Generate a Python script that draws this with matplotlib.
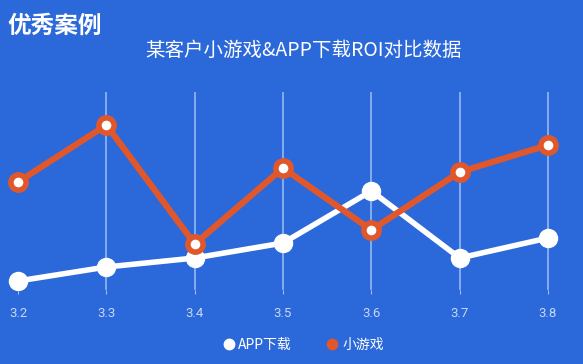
import matplotlib.pyplot as plt
from matplotlib.lines import Line2D

plt.rcParams['font.family'] = ['Noto Sans CJK SC', 'DejaVu Sans']

# 数据
x_labels = ['3.2', '3.3', '3.4', '3.5', '3.6', '3.7', '3.8']
x_vals = [3.2, 3.3, 3.4, 3.5, 3.6, 3.7, 3.8]
app_roi = [0.9, 2.3, 3.2, 4.7, 9.9, 3.2, 5.2]
game_roi = [10.8, 16.5, 4.6, 12.2, 6.0, 11.8, 14.5]

bg = '#2b68da'
orange = '#e0572b'

fig = plt.figure(figsize=(5.83, 3.64), dpi=100)
fig.patch.set_facecolor(bg)
ax = fig.add_axes([0, 74 / 364, 1, 198 / 364])
ax.set_facecolor(bg)

# 网格线（第一个类别没有）
for xv in x_vals[1:]:
    ax.axvline(xv, color='#9cc0f5', lw=1.1, zorder=1)

ax.plot(x_vals, app_roi, color='white', lw=4, marker='o', ms=13,
        solid_capstyle='round', zorder=3)
ax.plot(x_vals, game_roi, color=orange, lw=4.5, marker='o', ms=11,
        mfc='white', mec=orange, mew=4, zorder=4)

ax.set_xlim(3.1796, 3.8396)
ax.set_ylim(0, 19.8)
ax.set_xticks(x_vals)
ax.set_xticklabels(x_labels, color='#c6d8f6', fontsize=9.5,
                   family=['Roboto', 'DejaVu Sans'])
ax.tick_params(axis='x', length=3, color='#9cc0f5', pad=9)
ax.set_yticks([])
for s in ax.spines.values():
    s.set_visible(False)

fig.text(0.52, 0.86, '某客户小游戏&APP下载ROI对比数据', color='white',
         fontsize=14, ha='center', va='center')
fig.text(0.012, 0.93, '优秀案例', color='white', fontsize=17,
         fontweight='heavy', style='italic', ha='left', va='center')

handles = [
    Line2D([], [], ls='none', marker='o', ms=7.5, mfc='white', mec='white'),
    Line2D([], [], ls='none', marker='o', ms=7.5, mfc=orange, mec=orange),
]
leg = fig.legend(handles, ['APP下载', '小游戏'], loc='center',
                 bbox_to_anchor=(0.518, 0.052), ncol=2, frameon=False,
                 fontsize=10, handletextpad=0.1, columnspacing=2.3,
                 handlelength=1.2)
for t in leg.get_texts():
    t.set_color('white')

plt.savefig('out.png', dpi=100, facecolor=bg)
